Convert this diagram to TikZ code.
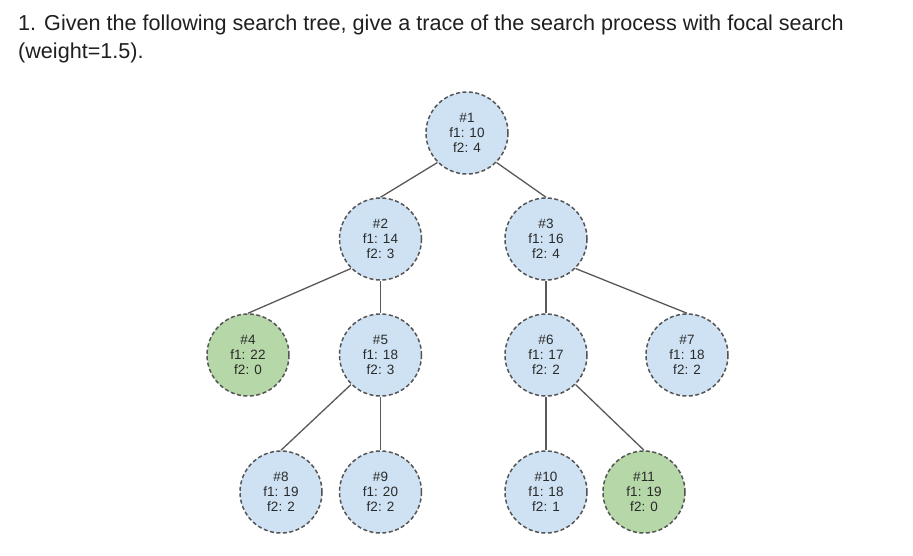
\documentclass[tikz,border=0pt]{standalone}
\usepackage{fontspec}
\setmainfont{Liberation Sans}
\definecolor{nodeblue}{HTML}{CFE2F3}
\definecolor{nodegreen}{HTML}{B6D7A8}
\definecolor{rimgray}{HTML}{555555}
\definecolor{edgegray}{HTML}{595959}
\definecolor{txtgray}{HTML}{2A2A2A}
\definecolor{titleblack}{HTML}{1F1F1F}
\begin{document}
\begin{tikzpicture}[x=1pt,y=-1pt,
  treenode/.style={circle, draw=rimgray, line width=1.5pt, dash pattern=on 4pt off 2.5pt,
    fill=nodeblue, minimum size=82pt, inner sep=0pt, align=center,
    text=txtgray, font=\fontsize{13.5}{15}\selectfont},
  goalnode/.style={treenode, fill=nodegreen},
  link/.style={draw=edgegray, line width=1.3pt},
  titletext/.style={anchor=base west, inner sep=0pt, text=titleblack, font=\fontsize{21.6}{24}\selectfont}]
\useasboundingbox[fill=white] (0,0) rectangle (913,555);
\node[titletext] (t1) at (18,30) {1. Given the following search tree, give a trace of the search process with focal search};
\node[titletext] (t2) at (18,58) {(weight=1.5).};
\node[treenode] (n1) at (467,133) {\#1\\f1: 10\\f2: 4};
\node[treenode] (n2) at (380.5,239) {\#2\\f1: 14\\f2: 3};
\node[treenode] (n3) at (546,239) {\#3\\f1: 16\\f2: 4};
\node[goalnode] (n4) at (248,355) {\#4\\f1: 22\\f2: 0};
\node[treenode] (n5) at (380.5,355) {\#5\\f1: 18\\f2: 3};
\node[treenode] (n6) at (546,355) {\#6\\f1: 17\\f2: 2};
\node[treenode] (n7) at (687,355) {\#7\\f1: 18\\f2: 2};
\node[treenode] (n8) at (281,492) {\#8\\f1: 19\\f2: 2};
\node[treenode] (n9) at (380.5,492) {\#9\\f1: 20\\f2: 2};
\node[treenode] (n10) at (546,492) {\#10\\f1: 18\\f2: 1};
\node[goalnode] (n11) at (644,492) {\#11\\f1: 19\\f2: 0};
\draw[link] (n1.south west) -- (n2.north);
\draw[link] (n1.south east) -- (n3.north);
\draw[link] (n2.south west) -- (n4.north);
\draw[link] (n2.south) -- (n5.north);
\draw[link] (n3.south) -- (n6.north);
\draw[link] (n3.south east) -- (n7.north);
\draw[link] (n5.south west) -- (n8.north);
\draw[link] (n5.south) -- (n9.north);
\draw[link] (n6.south) -- (n10.north);
\draw[link] (n6.south east) -- (n11.north);
\end{tikzpicture}
\end{document}
